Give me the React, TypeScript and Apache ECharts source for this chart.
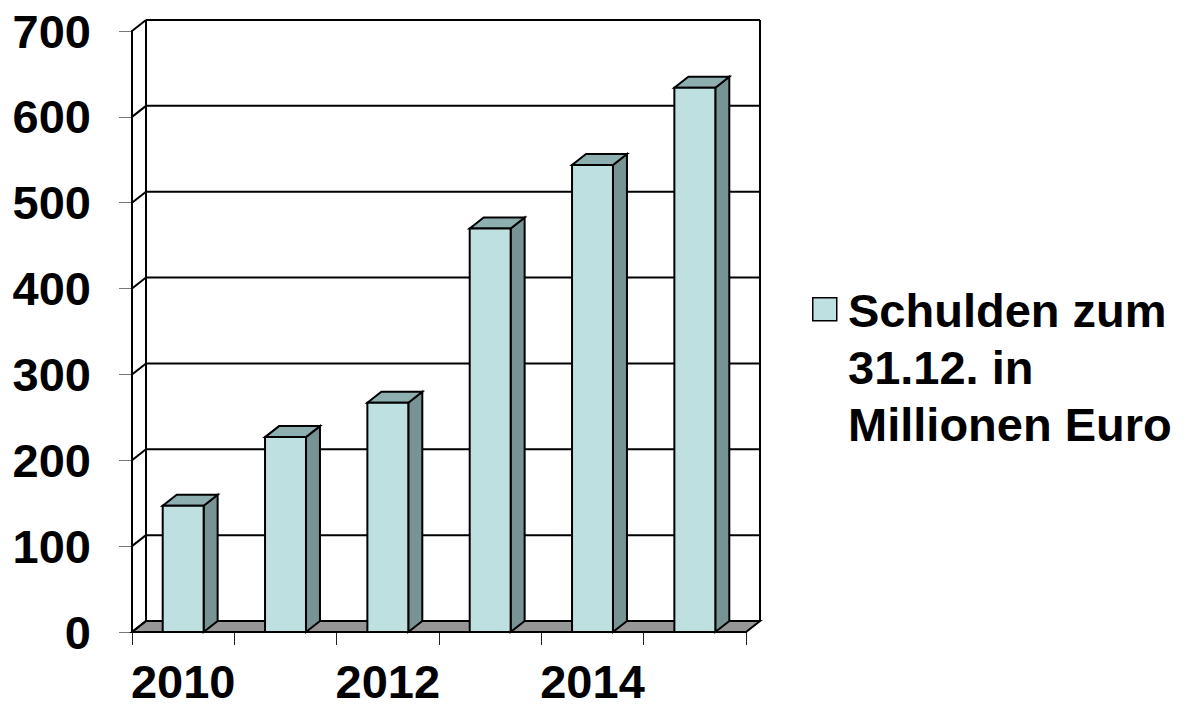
import React, { useEffect, useRef } from "react";
import * as echarts from "echarts";

const categories = ["2010", "2011", "2012", "2013", "2014", "2015"];
const debtValues = [147, 227, 267, 470, 544, 634];
const yTicks = [0, 100, 200, 300, 400, 500, 600, 700];
const seriesName = "Schulden zum\n31.12. in\nMillionen Euro";

const DX = 14;
const DY = -11;
const FONT = '"Liberation Sans", Arial, sans-serif';
const FS = 47;
const FRONT = "#BEE0E1";
const TOP = "#8EAFB0";
const SIDE = "#789394";

export default function App() {
  const ref = useRef<HTMLDivElement>(null);
  useEffect(() => {
    const chart = echarts.init(ref.current!, null, { renderer: "svg" });
    const ln = (x1: number, y1: number, x2: number, y2: number) => ({
      type: "line",
      shape: { x1, y1, x2, y2 },
      style: { stroke: "#000", lineWidth: 2 },
    });
    chart.setOption({
      animation: false,
      backgroundColor: "#fff",
      grid: { left: 132, top: 31, width: 614, height: 601, containLabel: false },
      xAxis: {
        type: "category",
        data: categories,
        boundaryGap: true,
        axisLine: { show: true, lineStyle: { color: "#000", width: 2 } },
        axisTick: { show: true, interval: 0, length: 13, lineStyle: { color: "#222", width: 1 } },
        axisLabel: {
          interval: 1,
          margin: 32,
          color: "#000",
          fontFamily: FONT,
          fontWeight: "bold",
          fontSize: FS,
          lineHeight: 34,
        },
        splitLine: { show: false },
      },
      yAxis: {
        type: "value",
        min: yTicks[0],
        max: yTicks[yTicks.length - 1],
        interval: 100,
        axisLine: { show: true, lineStyle: { color: "#000", width: 2 } },
        axisTick: { show: true, length: 13, lineStyle: { color: "#777", width: 1 } },
        axisLabel: {
          margin: 41,
          color: "#000",
          fontFamily: FONT,
          fontWeight: "bold",
          fontSize: FS,
        },
        splitLine: { show: false },
      },
      series: [
        {
          type: "custom",
          name: "walls",
          silent: true,
          clip: false,
          z: 1,
          data: [[0, 0]],
          renderItem: (params: any, api: any) => {
            const cs = params.coordSys;
            const x0 = cs.x;
            const x1 = cs.x + cs.width;
            const y0 = api.coord([0, yTicks[0]])[1];
            const yTop = api.coord([0, yTicks[yTicks.length - 1]])[1];
            const children: any[] = [];
            children.push({
              type: "polygon",
              shape: {
                points: [
                  [x0, y0],
                  [x1, y0],
                  [x1 + DX, y0 + DY],
                  [x0 + DX, y0 + DY],
                ],
              },
              style: { fill: "#969696", stroke: "#000", lineWidth: 2 },
            });
            yTicks.forEach((t) => {
              const y = api.coord([0, t])[1];
              children.push(ln(x0 + DX, y + DY, x1 + DX, y + DY));
              children.push(ln(x0, y, x0 + DX, y + DY));
            });
            children.push(ln(x0 + DX, yTop + DY, x0 + DX, y0 + DY));
            children.push(ln(x1 + DX, yTop + DY, x1 + DX, y0 + DY));
            children.push(ln(x0, yTop, x0, y0));
            return { type: "group", children };
          },
        },
        {
          type: "custom",
          name: seriesName,
          clip: false,
          z: 3,
          data: debtValues.map((v, i) => [i, v]),
          renderItem: (params: any, api: any) => {
            const i = api.value(0);
            const v = api.value(1);
            const top = api.coord([i, v]);
            const base = api.coord([i, 0]);
            const w = api.size([1, 0])[0] * 0.4;
            const l = top[0] - w / 2;
            const r = top[0] + w / 2;
            const ty = top[1];
            const by = base[1];
            const st = { stroke: "#000", lineWidth: 2, lineJoin: "miter" };
            return {
              type: "group",
              children: [
                {
                  type: "polygon",
                  shape: { points: [[r, ty], [r + DX, ty + DY], [r + DX, by + DY], [r, by]] },
                  style: { ...st, fill: SIDE },
                },
                {
                  type: "polygon",
                  shape: { points: [[l, ty], [r, ty], [r + DX, ty + DY], [l + DX, ty + DY]] },
                  style: { ...st, fill: TOP },
                },
                {
                  type: "rect",
                  shape: { x: l, y: ty, width: w, height: by - ty },
                  style: { ...st, fill: FRONT },
                },
              ],
            };
          },
        },
      ],
      graphic: [
        {
          type: "rect",
          left: 812,
          top: 297,
          shape: { width: 24, height: 23 },
          style: { fill: FRONT, stroke: "#000", lineWidth: 1.5 },
        },
        {
          type: "text",
          left: 848,
          top: 282,
          style: {
            text: seriesName,
            fill: "#000",
            font: `bold ${FS}px ${FONT}`,
            lineHeight: 57,
          },
        },
      ],
    });
    return () => chart.dispose();
  }, []);
  return (
    <div
      ref={ref}
      style={{ position: "fixed", left: 0, top: 0, width: 1191, height: 706, background: "#fff" }}
    />
  );
}
